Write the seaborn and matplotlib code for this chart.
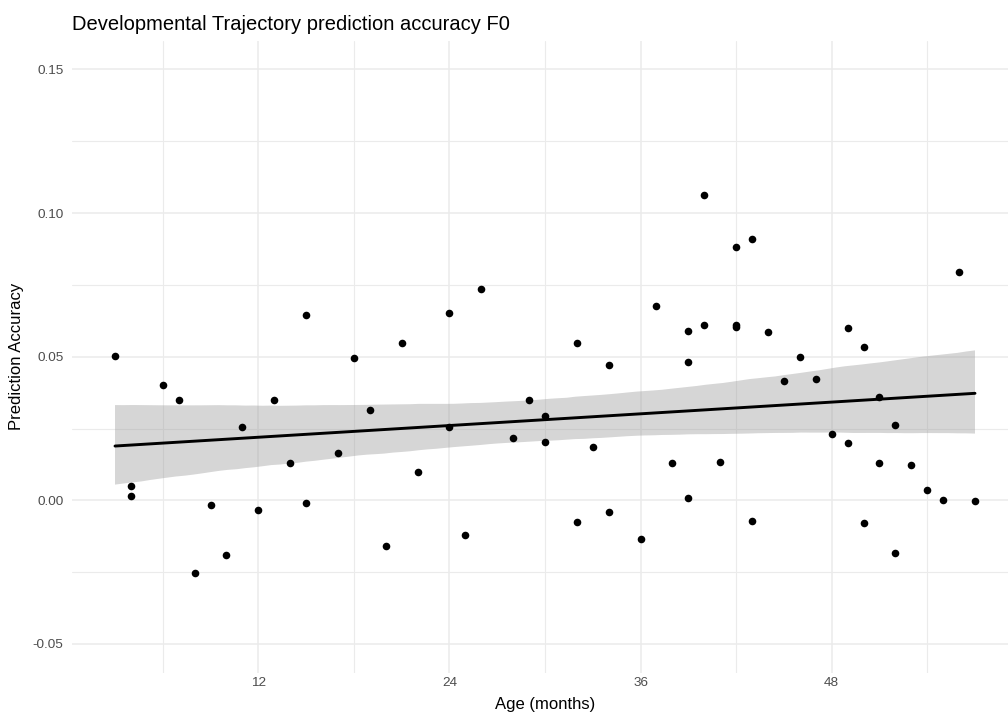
import numpy as np
import pandas as pd
import matplotlib
matplotlib.use("Agg")
import matplotlib.pyplot as plt
import seaborn as sns
from matplotlib.ticker import MultipleLocator, FixedLocator

# values (age in months, prediction accuracy)
age = [3, 4, 4, 6, 7, 8, 9, 10, 11, 12, 13, 14, 15, 15, 17, 18, 19, 20, 21, 22,
       24, 24, 25, 26, 28, 29, 30, 30, 32, 32, 33, 34, 34, 36, 37, 38,
       39, 39, 39, 40, 40, 41, 42, 42, 42, 43, 43, 44, 45, 46, 47, 48,
       49, 49, 50, 50, 51, 51, 52, 52, 53, 54, 55, 56, 57]
accuracy = [0.0502, 0.0049, 0.0014, 0.0401, 0.0351, -0.0253, -0.0017, -0.0189,
            0.0257, -0.0034, 0.0351, 0.0130, 0.0644, -0.0010, 0.0166, 0.0495,
            0.0315, -0.0160, 0.0548, 0.0099,
            0.0653, 0.0255, -0.0120, 0.0736, 0.0217, 0.0348, 0.0295, 0.0203,
            0.0548, -0.0074, 0.0186, 0.0471, -0.0042, -0.0135, 0.0677, 0.0130,
            0.0588, 0.0483, 0.0008, 0.1064, 0.0612, 0.0132, 0.0883, 0.0610,
            0.0603, 0.0908, -0.0072, 0.0585, 0.0416, 0.0499, 0.0423, 0.0232,
            0.0600, 0.0200, 0.0534, -0.0080, 0.0360, 0.0129, 0.0262, -0.0184,
            0.0124, 0.0036, 0.0002, 0.0794, -0.0001]

x_ticks = [12, 24, 36, 48]
y_ticks = [-0.05, 0.00, 0.05, 0.10, 0.15]
y_tick_labels = ["-0.05", "0.00", "0.05", "0.10", "0.15"]

df = pd.DataFrame({"Age (months)": age, "Prediction Accuracy": accuracy})

sns.set_theme(style="white")
plt.rcParams["font.family"] = ["Liberation Sans", "DejaVu Sans"]

W, H = 1008, 718
fig = plt.figure(figsize=(W / 100, H / 100), dpi=100)
# panel runs a little past the right edge, like the cropped reference
left, right, top, bottom = 72, 1018, 40.7, 672.7
ax = fig.add_axes([left / W, 1 - bottom / H, (right - left) / W, (bottom - top) / H])

sns.regplot(
    data=df, x="Age (months)", y="Prediction Accuracy", ax=ax,
    ci=95, n_boot=2000, seed=7,
    scatter_kws={"s": 30, "color": "black", "alpha": 1, "linewidths": 0, "zorder": 4},
    line_kws={"color": "black", "lw": 2.1, "zorder": 3},
)
# band colour like ggplot's grey60 at alpha 0.4
for coll in ax.collections:
    if coll.__class__.__name__ in ("PolyCollection", "FillBetweenPolyCollection"):
        coll.set_facecolor("#999999")
        coll.set_alpha(0.4)
        coll.set_edgecolor("none")
        coll.set_zorder(2)

ax.set_xlim(0.3, 59.7)
ax.set_ylim(-0.06, 0.16)
ax.xaxis.set_major_locator(FixedLocator(x_ticks))
ax.xaxis.set_minor_locator(FixedLocator([6, 18, 30, 42, 54]))
ax.set_yticks(y_ticks, y_tick_labels)
ax.yaxis.set_minor_locator(MultipleLocator(0.025))

ax.grid(which="major", color="#EBEBEB", lw=1.1, zorder=0)
ax.grid(which="minor", color="#EBEBEB", lw=0.8, zorder=0)
ax.set_axisbelow(True)
for s in ax.spines.values():
    s.set_visible(False)
ax.tick_params(which="both", length=0)
ax.tick_params(axis="y", labelsize=9.7, labelcolor="#4D4D4D", pad=6)
ax.tick_params(axis="x", labelsize=9.7, labelcolor="#4D4D4D", pad=3)

ax.set_xlabel("Age (months)", fontsize=12, color="black", labelpad=6)
ax.set_ylabel("Prediction Accuracy", fontsize=12, color="black", labelpad=6)
ax.set_title("Developmental Trajectory prediction accuracy F0", loc="left",
             fontsize=14.5, color="black", pad=8)

fig.savefig("out.png", dpi=100)
